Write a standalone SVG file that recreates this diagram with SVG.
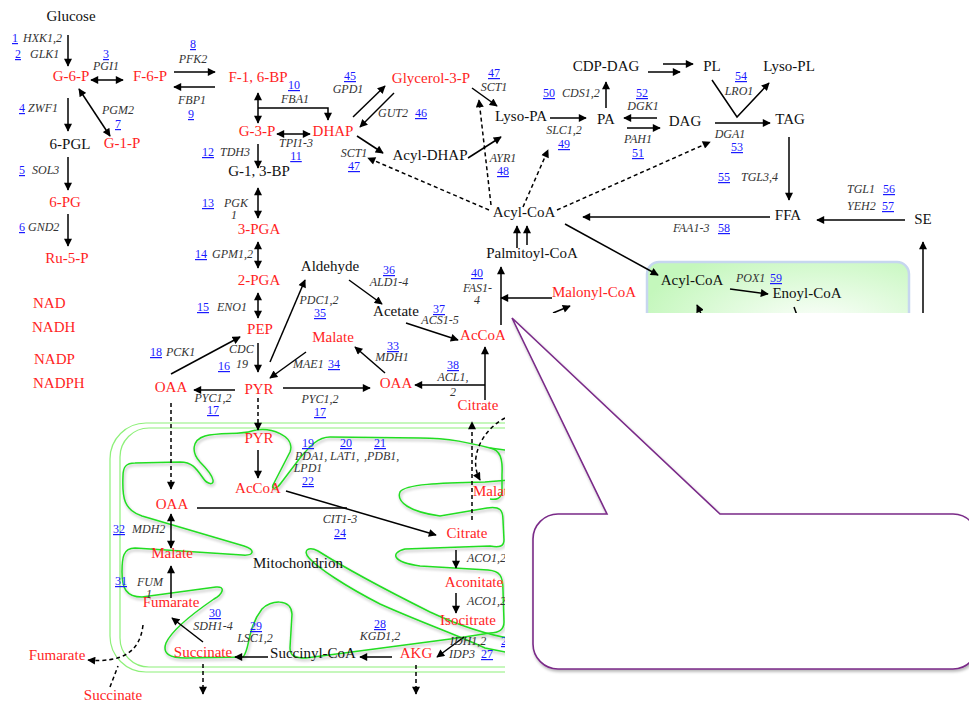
<svg xmlns="http://www.w3.org/2000/svg" width="969" height="702" viewBox="0 0 969 702">
<defs>
<style>
text{font-family:"Liberation Serif","Times New Roman",serif}
.n{font-size:15px;fill:#111}
.r{font-size:15px;fill:#ff1f1f}
.g{font-size:12px;font-style:italic;fill:#333}
.b{font-size:12px;fill:#1a1aff;text-decoration:underline}
.m{text-anchor:middle}
.c{fill:none;stroke:#000;stroke-width:1.5}
.e{marker-end:url(#ah)}
.s{marker-start:url(#ah)}
.d{stroke-dasharray:4 3}
.mem{fill:none;stroke:#8ef07a;stroke-width:1.2}
.cr{fill:none;stroke:#22dd22;stroke-width:1.5}
</style>
<marker id="ah" viewBox="0 0 10 10" refX="9" refY="5" markerWidth="9" markerHeight="8" markerUnits="userSpaceOnUse" orient="auto-start-reverse"><path d="M0,0 L10,5 L0,10 z" fill="#000"/></marker>
<radialGradient id="pg" cx="0.65" cy="0.55" r="0.7"><stop offset="0" stop-color="#ffffff"/><stop offset="1" stop-color="#c4f7bc"/></radialGradient>
<filter id="sh" x="-5%" y="-5%" width="110%" height="115%"><feGaussianBlur in="SourceAlpha" stdDeviation="1.5"/><feOffset dx="1" dy="2"/><feComponentTransfer><feFuncA type="linear" slope="0.3"/></feComponentTransfer><feMerge><feMergeNode/><feMergeNode in="SourceGraphic"/></feMerge></filter>
</defs>
<rect width="969" height="702" fill="#fff"/>

<g id="peroxisome">
<rect x="647" y="262" width="262" height="120" rx="12" fill="url(#pg)" stroke="#c6d6ef" stroke-width="2.5"/>
</g>

<g id="mitochondrion">
<rect x="110" y="423" width="440" height="249" rx="36" class="mem"/>
<rect x="120" y="428" width="420" height="239" rx="29" class="mem"/>
<g filter="url(#sh)">
<path class="cr" d="M520,452 L490,448 C470,443 450,438 420,438 L330,437 C318,437 310,446 300,458 L281,483 C277,489 271,490 273,485 L290,452 C296,436 270,426 252,431 C240,435 220,432 205,436 C192,440 191,452 200,462 C206,468 212,474 213,480 C214,486 207,484 203,478 C196,468 192,462 180,462 L135,463 C126,463 123,467 123,476 C122,498 124,510 142,516 L244,546 C256,550 254,556 242,555 L135,548 C123,548 122,558 122,572 C122,588 126,597 142,597 L216,587 C226,586 223,594 214,599 C195,612 172,630 166,643 C162,654 170,658 186,658 L243,657 C250,650 247,628 262,609 C270,600 291,598 292,614 L290,648 C290,656 295,658 306,658 L458,638"/>
<path class="cr" d="M520,655 L485,648 C455,634 420,622 380,604 C345,586 318,568 309,558 C302,550 309,546 318,551 C345,568 390,592 430,612 C460,626 490,636 520,640"/>
<path class="cr" d="M490,448 C500,450 503,458 502,475 L502,492 C501,499 496,500 490,499"/>
<path class="cr" d="M510,480 L485,482 C440,483 405,484 400,492 C396,502 410,512 440,516 L487,508 C500,506 503,510 503,520 L504,540 C504,546 500,548 490,546 L405,549 C390,553 392,562 420,566 L488,570 C500,571 503,576 503,590 L504,622 C504,630 498,633 490,633 L458,638"/>
</g>
</g>

<g id="connectors">
<path class="c e" d="M68,35 V66"/>
<path class="c e s" d="M91,80 H123"/>
<path class="c e" d="M174,72 H215"/>
<path class="c e" d="M215,87 H174"/>
<path class="c e" d="M68,98 V131"/>
<path class="c e s" d="M79,89 L110,136"/>
<path class="c e" d="M68,157 V190"/>
<path class="c e" d="M68,214 V246"/>
<path class="c e s" d="M258,93 V123"/>
<path class="c e" d="M258,108 H328 V120"/>
<path class="c e s" d="M277,134 H310"/>
<path class="c e" d="M258,144 V168"/>
<path class="c e s" d="M258,188 V218"/>
<path class="c e s" d="M258,242 V268"/>
<path class="c e s" d="M258,293 V318"/>
<path class="c e" d="M258,343 V372"/>
<path class="c e" d="M171,374 L240,337"/>
<path class="c e" d="M235,390 H194"/>
<path class="c e" d="M270,362 L305,280"/>
<path class="c e" d="M306,352 L270,378"/>
<path class="c e" d="M283,388 H370"/>
<path class="c e" d="M385,373 L355,347"/>
<path class="c e" d="M349,280 L382,304"/>
<path class="c e" d="M406,323 L458,340"/>
<path class="c e" d="M485,400 V347"/>
<path class="c e" d="M485,385 H415"/>
<path class="c e" d="M501,325 V267"/>
<path class="c e" d="M552,298 H501"/>
<path class="c e" d="M553,313 L570,306"/>
<path class="c e" d="M517,248 V226"/>
<path class="c e" d="M527,245 V226"/>
<path class="c e" d="M353,117 L385,86"/>
<path class="c e" d="M394,93 L360,127"/>
<path class="c e" d="M357,136 L383,153"/>
<path class="c e" d="M468,158 L501,137"/>
<path class="c e" d="M472,88 L497,106"/>
<path class="c e" d="M550,118 H586"/>
<path class="c e" d="M606,108 V82"/>
<path class="c e" d="M663,64 H693"/>
<path class="c e" d="M648,72 H680"/>
<path class="c e" d="M657,118 H624"/>
<path class="c e" d="M627,128 H660"/>
<path class="c e" d="M715,123 H770"/>
<path class="c e" d="M712,80 L737,117 L769,83"/>
<path class="c e" d="M789,137 V200"/>
<path class="c e" d="M905,220 H817"/>
<path class="c e" d="M770,217 H583"/>
<path class="c e" d="M565,224 L658,275"/>
<path class="c e" d="M730,289 L768,294"/>
<path class="c" d="M794,307 L798,318"/>
<path class="c e" d="M703,318 L697,305"/>
<path class="c e" d="M923,330 V242"/>
<path class="c e d" d="M489,210 L368,158"/>
<path class="c e d" d="M491,205 L479,100"/>
<path class="c e d" d="M523,207 L548,150"/>
<path class="c e d" d="M557,210 L710,142"/>
<path class="c e d" d="M258,398 V430"/>
<path class="c e d" d="M171,403 V489"/>
<path class="c e d" d="M472,520 V422"/>
<path class="c e d" d="M505,418 C482,430 468,458 480,480"/>
<path class="c e d" d="M203,664 V694"/>
<path class="c e d" d="M416,665 V694"/>
<path class="c e d" d="M143,625 C140,652 122,663 88,660"/>
<path class="c d" d="M110,687 L118,666"/>
<path class="c e" d="M258,450 V478"/>
<path class="c" d="M197,508 H347"/>
<path class="c e" d="M286,491 L436,535"/>
<path class="c e s" d="M171,514 V548"/>
<path class="c e" d="M171,598 V566"/>
<path class="c e" d="M203,642 L172,618"/>
<path class="c e" d="M268,657 H235"/>
<path class="c e" d="M392,657 H360"/>
<path class="c e" d="M464,637 L437,657"/>
<path class="c e" d="M456,550 V568"/>
<path class="c e" d="M456,593 V613"/>
</g>

<g id="nodes">
<g id="n-glucose"><text class="n m" x="71" y="21">Glucose</text></g>
<g id="n-g6p"><text class="r m" x="71" y="81">G-6-P</text></g>
<g id="n-f6p"><text class="r m" x="150" y="81">F-6-P</text></g>
<g id="n-g1p"><text class="r m" x="122" y="148">G-1-P</text></g>
<g id="n-6pgl"><text class="n m" x="70" y="149">6-PGL</text></g>
<g id="n-6pg"><text class="r m" x="65" y="207">6-PG</text></g>
<g id="n-ru5p"><text class="r m" x="67" y="263">Ru-5-P</text></g>
<g id="n-f16bp"><text class="r m" x="258" y="82">F-1, 6-BP</text></g>
<g id="n-g3p"><text class="r m" x="257" y="136">G-3-P</text></g>
<g id="n-dhap"><text class="r m" x="333" y="136">DHAP</text></g>
<g id="n-gly3p"><text class="r m" x="431" y="83">Glycerol-3-P</text></g>
<g id="n-g13bp"><text class="n m" x="259" y="176">G-1, 3-BP</text></g>
<g id="n-3pga"><text class="r m" x="259" y="234">3-PGA</text></g>
<g id="n-2pga"><text class="r m" x="259" y="285">2-PGA</text></g>
<g id="n-pep"><text class="r m" x="260" y="334">PEP</text></g>
<g id="n-pyr"><text class="r m" x="259" y="394">PYR</text></g>
<g id="n-oaa1"><text class="r m" x="171" y="392">OAA</text></g>
<g id="n-malate1"><text class="r m" x="333" y="342">Malate</text></g>
<g id="n-oaa2"><text class="r m" x="396" y="388">OAA</text></g>
<g id="n-aldehyde"><text class="n m" x="330" y="271">Aldehyde</text></g>
<g id="n-acetate"><text class="n m" x="396" y="316">Acetate</text></g>
<g id="n-accoa"><text class="r m" x="483" y="340">AcCoA</text></g>
<g id="n-citrate"><text class="r m" x="478" y="410">Citrate</text></g>
<g id="n-malonyl"><text class="r m" x="594" y="297">Malonyl-CoA</text></g>
<g id="n-palm"><text class="n m" x="532" y="258">Palmitoyl-CoA</text></g>
<g id="n-acylcoa"><text class="n m" x="524" y="217">Acyl-CoA</text></g>
<g id="n-acyldhap"><text class="n m" x="430" y="160">Acyl-DHAP</text></g>
<g id="n-lysopa"><text class="n m" x="521" y="121">Lyso-PA</text></g>
<g id="n-pa"><text class="n m" x="606" y="124">PA</text></g>
<g id="n-cdpdag"><text class="n m" x="606" y="71">CDP-DAG</text></g>
<g id="n-pl"><text class="n m" x="712" y="71">PL</text></g>
<g id="n-dag"><text class="n m" x="685" y="126">DAG</text></g>
<g id="n-lysopl"><text class="n m" x="789" y="71">Lyso-PL</text></g>
<g id="n-tag"><text class="n m" x="790" y="124">TAG</text></g>
<g id="n-ffa"><text class="n m" x="788" y="220">FFA</text></g>
<g id="n-se"><text class="n m" x="923" y="224">SE</text></g>
<g id="n-pacyl"><text class="n m" x="692" y="285">Acyl-CoA</text></g>
<g id="n-enoyl"><text class="n m" x="807" y="298">Enoyl-CoA</text></g>
<g id="n-nad"><text class="r" x="33" y="308">NAD</text><text class="r" x="32" y="332">NADH</text><text class="r" x="34" y="364">NADP</text><text class="r" x="33" y="388">NADPH</text></g>
<g id="n-mpyr"><text class="r m" x="259" y="443">PYR</text></g>
<g id="n-maccoa"><text class="r m" x="258" y="493">AcCoA</text></g>
<g id="n-moaa"><text class="r m" x="172" y="509">OAA</text></g>
<g id="n-mmalate"><text class="r m" x="172" y="558">Malate</text></g>
<g id="n-mfum"><text class="r m" x="171" y="607">Fumarate</text></g>
<g id="n-msucc"><text class="r m" x="203" y="657">Succinate</text></g>
<g id="n-succoa"><text class="n m" x="313" y="658">Succinyl-CoA</text></g>
<g id="n-akg"><text class="r m" x="416" y="658">AKG</text></g>
<g id="n-mcit"><text class="r m" x="467" y="538">Citrate</text></g>
<g id="n-acon"><text class="r m" x="474" y="587">Aconitate</text></g>
<g id="n-isocit"><text class="r m" x="468" y="625">Isocitrate</text></g>
<g id="n-mmal2"><text class="r" x="473" y="496">Malate</text></g>
<g id="n-mito"><text class="n m" x="298" y="568">Mitochondrion</text></g>
<g id="n-fum-out"><text class="r m" x="57" y="660">Fumarate</text></g>
<g id="n-succ-out"><text class="r m" x="113" y="700">Succinate</text></g>
</g>

<g id="genes">
<text class="g" x="23" y="42">HXK1,2</text>
<text class="g" x="30" y="58">GLK1</text>
<text class="g m" x="106" y="70">PGI1</text>
<text class="g m" x="193" y="63">PFK2</text>
<text class="g m" x="192" y="104">FBP1</text>
<text class="g" x="28" y="112">ZWF1</text>
<text class="g m" x="118" y="114">PGM2</text>
<text class="g" x="32" y="174">SOL3</text>
<text class="g" x="28" y="231">GND2</text>
<text class="g m" x="295" y="103">FBA1</text>
<text class="g m" x="296" y="147">TPI1-3</text>
<text class="g" x="220" y="156">TDH3</text>
<text class="g" x="224" y="207">PGK</text>
<text class="g" x="231" y="219">1</text>
<text class="g" x="212" y="258">GPM1,2</text>
<text class="g" x="217" y="311">ENO1</text>
<text class="g m" x="348" y="93">GPD1</text>
<text class="g m" x="393" y="117">GUT2</text>
<text class="g m" x="354" y="157">SCT1</text>
<text class="g m" x="494" y="91">SCT1</text>
<text class="g m" x="503" y="162">AYR1</text>
<text class="g" x="562" y="97">CDS1,2</text>
<text class="g m" x="564" y="134">SLC1,2</text>
<text class="g m" x="643" y="110">DGK1</text>
<text class="g m" x="638" y="143">PAH1</text>
<text class="g m" x="739" y="95">LRO1</text>
<text class="g m" x="730" y="138">DGA1</text>
<text class="g" x="741" y="181">TGL3,4</text>
<text class="g" x="847" y="193">TGL1</text>
<text class="g" x="847" y="210">YEH2</text>
<text class="g" x="673" y="232">FAA1-3</text>
<text class="g" x="736" y="282">POX1</text>
<text class="g" x="166" y="356">PCK1</text>
<text class="g" x="229" y="353">CDC</text>
<text class="g" x="236" y="368">19</text>
<text class="g m" x="213" y="402">PYC1,2</text>
<text class="g m" x="319" y="304">PDC1,2</text>
<text class="g" x="293" y="368">MAE1</text>
<text class="g m" x="392" y="361">MDH1</text>
<text class="g m" x="320" y="403">PYC1,2</text>
<text class="g m" x="389" y="286">ALD1-4</text>
<text class="g m" x="440" y="324">ACS1-5</text>
<text class="g" x="463" y="292">FAS1-</text>
<text class="g m" x="477" y="304">4</text>
<text class="g m" x="453" y="381">ACL1,</text>
<text class="g m" x="453" y="396">2</text>
<text class="g" x="295" y="460">PDA1,</text>
<text class="g" x="330" y="460">LAT1,</text>
<text class="g" x="364" y="460">,PDB1,</text>
<text class="g m" x="308" y="472">LPD1</text>
<text class="g m" x="340" y="523">CIT1-3</text>
<text class="g" x="132" y="533">MDH2</text>
<text class="g" x="137" y="586">FUM</text>
<text class="g" x="146" y="598">1</text>
<text class="g m" x="213" y="630">SDH1-4</text>
<text class="g m" x="255" y="642">LSC1,2</text>
<text class="g m" x="380" y="640">KGD1,2</text>
<text class="g" x="450" y="645">IDH1,2</text>
<text class="g" x="449" y="658">IDP3</text>
<text class="g" x="467" y="562">ACO1,2</text>
<text class="g" x="467" y="605">ACO1,2</text>
</g>

<g id="refs">
<text class="b" x="12" y="42">1</text>
<text class="b m" x="18" y="58">2</text>
<text class="b m" x="106" y="58">3</text>
<text class="b m" x="193" y="48">8</text>
<text class="b m" x="191" y="118">9</text>
<text class="b m" x="22" y="112">4</text>
<text class="b m" x="118" y="128">7</text>
<text class="b m" x="22" y="174">5</text>
<text class="b m" x="22" y="231">6</text>
<text class="b m" x="294" y="89">10</text>
<text class="b m" x="296" y="160">11</text>
<text class="b" x="202" y="156">12</text>
<text class="b" x="202" y="207">13</text>
<text class="b m" x="350" y="80">45</text>
<text class="b m" x="421" y="117">46</text>
<text class="b m" x="354" y="170">47</text>
<text class="b m" x="494" y="77">47</text>
<text class="b m" x="503" y="175">48</text>
<text class="b" x="543" y="97">50</text>
<text class="b m" x="564" y="148">49</text>
<text class="b m" x="642" y="97">52</text>
<text class="b m" x="638" y="157">51</text>
<text class="b m" x="741" y="80">54</text>
<text class="b m" x="737" y="151">53</text>
<text class="b" x="718" y="181">55</text>
<text class="b" x="883" y="193">56</text>
<text class="b" x="882" y="210">57</text>
<text class="b" x="718" y="232">58</text>
<text class="b" x="770" y="282">59</text>
<text class="b" x="195" y="258">14</text>
<text class="b" x="197" y="311">15</text>
<text class="b" x="150" y="356">18</text>
<text class="b" x="218" y="370">16</text>
<text class="b m" x="213" y="414">17</text>
<text class="b m" x="320" y="317">35</text>
<text class="b" x="328" y="368">34</text>
<text class="b m" x="320" y="416">17</text>
<text class="b m" x="393" y="350">33</text>
<text class="b m" x="389" y="274">36</text>
<text class="b m" x="439" y="313">37</text>
<text class="b m" x="477" y="277">40</text>
<text class="b m" x="453" y="369">38</text>
<text class="b m" x="308" y="447">19</text>
<text class="b m" x="346" y="447">20</text>
<text class="b m" x="380" y="447">21</text>
<text class="b m" x="308" y="485">22</text>
<text class="b m" x="340" y="537">24</text>
<text class="b" x="113" y="533">32</text>
<text class="b" x="115" y="585">31</text>
<text class="b m" x="215" y="617">30</text>
<text class="b m" x="256" y="630">29</text>
<text class="b m" x="380" y="628">28</text>
<text class="b" x="481" y="658">27</text>
<text class="b" x="501" y="645">26</text>
</g>

<g id="callout">
<rect x="505" y="313" width="464" height="389" fill="#fff"/>
<path d="M512,318 L607,514 L558,514 A25,25 0 0 0 533,539 L533,644 A25,25 0 0 0 558,669 L953,669 A25,25 0 0 0 978,644 L978,539 A25,25 0 0 0 953,514 L720,514 Z" fill="#fff" stroke="#7a2a88" stroke-width="1.6" filter="url(#sh)"/>
</g>
</svg>
